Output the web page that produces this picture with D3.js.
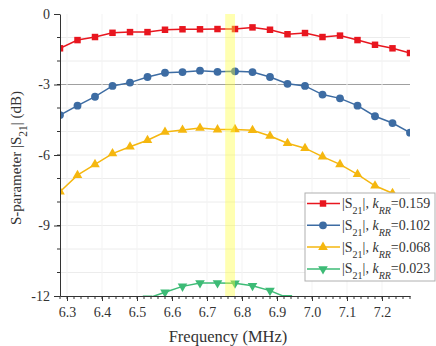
<!DOCTYPE html>
<html>
<head>
<meta charset="utf-8">
<script src="https://cdn.jsdelivr.net/npm/d3@7"></script>
<style>
  body { margin: 0; background: #fff; }
  text { font-family: "Liberation Serif", "Times New Roman", serif; fill: #333; }
</style>
</head>
<body>
<script>
// frequency points (MHz)
const freq = [6.28, 6.33, 6.38, 6.43, 6.48, 6.53, 6.58, 6.63, 6.68, 6.73, 6.78,
              6.83, 6.88, 6.93, 6.98, 7.03, 7.08, 7.13, 7.18, 7.23, 7.28];
// |S21| in dB for each coupling
const s159 = [-1.46, -1.11, -0.98, -0.80, -0.77, -0.77, -0.67, -0.65, -0.65, -0.64, -0.64,
              -0.57, -0.67, -0.86, -0.81, -0.98, -0.92, -1.11, -1.31, -1.46, -1.66];
const s102 = [-4.30, -3.90, -3.52, -3.06, -2.92, -2.68, -2.50, -2.47, -2.41, -2.46, -2.44,
              -2.47, -2.68, -2.97, -3.06, -3.43, -3.59, -3.90, -4.35, -4.64, -5.05];
const s068 = [-7.56, -6.86, -6.40, -5.94, -5.65, -5.37, -5.02, -4.94, -4.85, -4.92, -4.91,
              -4.95, -5.19, -5.50, -5.71, -6.07, -6.40, -6.82, -7.31, -7.63, -7.95];
const s023 = [null, null, null, null, null, -12.10, -11.84, -11.59, -11.45, -11.45, -11.46,
              -11.56, -11.77, -12.08, null, null, null, null, null, null, null];
const kLabels = ['0.159', '0.102', '0.068', '0.023'];
const xTicks = [6.3, 6.4, 6.5, 6.6, 6.7, 6.8, 6.9, 7.0, 7.1, 7.2];
const yTicks = [0, -3, -6, -9, -12];
const band = [6.752, 6.780];

const series = [
  { vals: s159, color: '#e8161f', shape: d3.symbolSquare, size: 42 },
  { vals: s102, color: '#3d6ca3', shape: d3.symbolCircle, size: 48 },
  { vals: s068, color: '#f5b70f', shape: d3.symbolTriangle, size: 40 },
  { vals: s023, color: '#3dbb76', shape: d3.symbolTriangle, size: 40, flip: true }
];

const W = 436, H = 346;
const margin = { top: 14, right: 26, bottom: 50, left: 60 };
const svg = d3.select('body').append('svg').attr('width', W).attr('height', H);

const x = d3.scaleLinear().domain([6.28, 7.28]).range([margin.left, W - margin.right]);
const y = d3.scaleLinear().domain([-12, 0]).range([H - margin.bottom, margin.top]);

svg.append('clipPath').attr('id', 'plot')
  .append('rect')
  .attr('x', x.range()[0]).attr('y', y.range()[1])
  .attr('width', x.range()[1] - x.range()[0])
  .attr('height', y.range()[0] - y.range()[1]);

// grid
svg.append('g').selectAll('line')
  .data(d3.range(-11, 0))
  .enter().append('line')
  .attr('x1', x.range()[0]).attr('x2', x.range()[1])
  .attr('y1', d => y(d)).attr('y2', d => y(d))
  .attr('stroke', d => d === -3 ? '#a0a0a0' : '#ececec')
  .attr('stroke-width', 1);

svg.append('g').selectAll('line')
  .data(xTicks)
  .enter().append('line')
  .attr('x1', d => x(d)).attr('x2', d => x(d))
  .attr('y1', y.range()[1]).attr('y2', y.range()[0])
  .attr('stroke', '#f3f3f3');

// series
const plot = svg.append('g').attr('clip-path', 'url(#plot)');
const line = d3.line()
  .defined(d => d.v !== null)
  .x(d => x(d.f)).y(d => y(d.v));

series.forEach(s => {
  const pts = freq.map((f, i) => ({ f: f, v: s.vals[i] }));
  plot.append('path')
    .datum(pts)
    .attr('d', line)
    .attr('fill', 'none')
    .attr('stroke', s.color)
    .attr('stroke-width', 1.5);
  plot.append('g').selectAll('path')
    .data(pts.filter(d => d.v !== null))
    .enter().append('path')
    .attr('d', d3.symbol().type(s.shape).size(s.size))
    .attr('transform', d => `translate(${x(d.f)},${y(d.v)})` + (s.flip ? ' rotate(180)' : ''))
    .attr('fill', s.color);
});

// highlighted band
svg.append('rect')
  .attr('x', x(band[0]))
  .attr('width', x(band[1]) - x(band[0]))
  .attr('y', y(0))
  .attr('height', y(-12) - y(0))
  .attr('fill', '#ffff3c')
  .attr('opacity', 0.4);

// axes
const xAxis = svg.append('g')
  .attr('transform', `translate(0,${y.range()[0]})`)
  .call(d3.axisBottom(x).tickValues(xTicks).tickFormat(d3.format('.1f')).tickSize(5).tickPadding(6).tickSizeOuter(0));
xAxis.append('g').selectAll('line')
  .data(d3.range(6.28, 7.281, 0.02))
  .enter().append('line')
  .attr('x1', d => x(d)).attr('x2', d => x(d))
  .attr('y1', 0).attr('y2', 3)
  .attr('stroke', '#333');

const yAxis = svg.append('g')
  .attr('transform', `translate(${x.range()[0]},0)`)
  .call(d3.axisLeft(y).tickValues(yTicks).tickFormat(d => String(d)).tickSize(6).tickPadding(4).tickSizeOuter(0));
yAxis.append('g').selectAll('line')
  .data(d3.range(-11, 0))
  .enter().append('line')
  .attr('x1', -3).attr('x2', 0)
  .attr('y1', d => y(d)).attr('y2', d => y(d))
  .attr('stroke', '#333');

[xAxis, yAxis].forEach(a => {
  a.selectAll('path.domain').attr('stroke', '#333');
  a.selectAll('.tick line').attr('stroke', '#333');
  a.selectAll('text').style('font-family', '"Liberation Serif", serif').style('font-size', '14px').attr('fill', '#333');
});

// axis titles
svg.append('text')
  .attr('x', (x.range()[0] + x.range()[1]) / 2 - 7)
  .attr('y', 342)
  .attr('text-anchor', 'middle')
  .style('font-size', '16.5px')
  .text('Frequency (MHz)');

const yl = svg.append('text')
  .attr('transform', `translate(20.5,${(y.range()[0] + y.range()[1]) / 2 + 3}) rotate(-90)`)
  .attr('text-anchor', 'middle')
  .style('font-size', '15px');
yl.append('tspan').text('S-parameter |S');
yl.append('tspan').attr('baseline-shift', 'sub').style('font-size', '11.5px').text('21');
yl.append('tspan').text('| (dB)');

// legend
const lg = svg.append('g').attr('transform', 'translate(305,193)');
lg.append('rect')
  .attr('width', 130).attr('height', 88)
  .attr('fill', '#fff').attr('stroke', '#b0b0b0');
series.forEach((s, i) => {
  const row = lg.append('g').attr('transform', `translate(0,${10.5 + i * 21.8})`);
  row.append('line').attr('x1', 2).attr('x2', 35).attr('stroke', s.color).attr('stroke-width', 1.5);
  row.append('path')
    .attr('d', d3.symbol().type(s.shape).size(s.size))
    .attr('transform', 'translate(18,0)' + (s.flip ? ' rotate(180)' : ''))
    .attr('fill', s.color);
  const t = row.append('text').attr('x', 37).attr('y', 4.5).style('font-size', '14px');
  t.append('tspan').text('|S');
  t.append('tspan').attr('baseline-shift', 'sub').style('font-size', '10px').text('21');
  t.append('tspan').text('|, ');
  t.append('tspan').style('font-style', 'italic').text('k');
  t.append('tspan').attr('baseline-shift', 'sub').style('font-size', '10px').style('font-style', 'italic').text('RR');
  t.append('tspan').text('=' + kLabels[i]);
});
</script>
</body>
</html>
